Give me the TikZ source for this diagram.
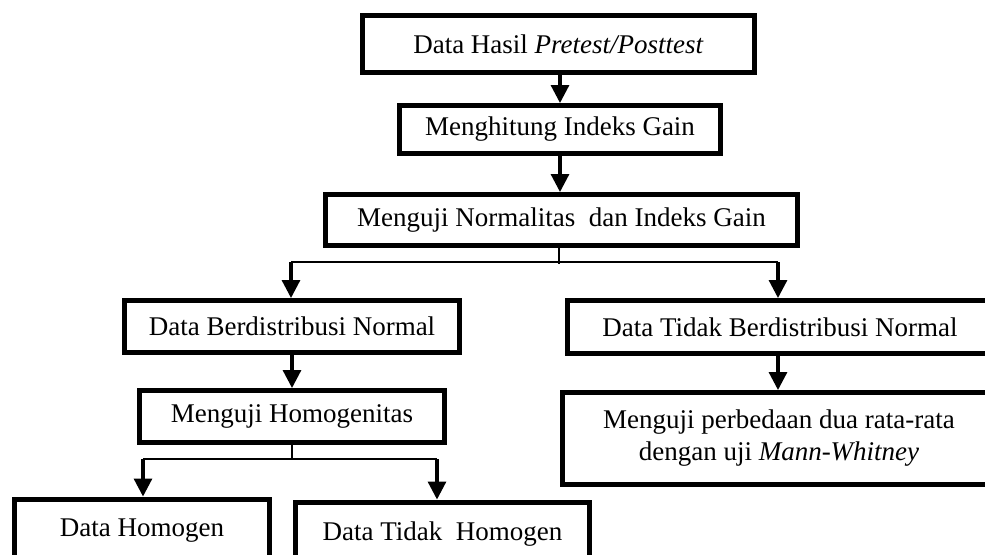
\documentclass[tikz,border=0pt]{standalone}
\usepackage{fontspec}
\setmainfont{Liberation Serif}
\usetikzlibrary{arrows.meta}
\begin{document}
\begin{tikzpicture}[x=0.5pt,y=-0.5pt,
  box/.style={draw=black,line width=2.5pt,fill=white,inner sep=0pt,align=center,
    font=\fontsize{13.5}{16}\selectfont},
  thinline/.style={line width=1.1pt},
  arr/.style={line width=1.6pt,-{Triangle[length=9pt,width=9pt]}}]
\useasboundingbox (0,0) rectangle (985,554);
\clip (0,0) rectangle (985,554);
\fill[white] (0,0) rectangle (985,554);
% boxes (centers and outer sizes in px, scale 0.5pt)
\node[box,minimum width=196pt,minimum height=28.5pt] (B1) at (558.5,44) {Data Hasil \textit{Pretest/Posttest}};
\node[box,minimum width=160.5pt,minimum height=24pt] (B2) at (560,129.5) {Menghitung Indeks Gain};
\node[box,minimum width=236pt,minimum height=25.5pt] (B3) at (561.5,220) {Menguji Normalitas\ \ dan Indeks Gain};
\node[box,minimum width=167.5pt,minimum height=26pt] (B4) at (292,326.5) {Data Berdistribusi Normal};
\node[box,minimum width=212.5pt,minimum height=26.5pt] (B5) at (780,327) {Data Tidak Berdistribusi Normal};
\node[box,minimum width=152.5pt,minimum height=26pt] (B6) at (292,416.5) {Menguji Homogenitas};
\node[box,minimum width=216.5pt,minimum height=46pt] (B7) at (779,438.5) {Menguji perbedaan dua rata-rata\\dengan uji \textit{Mann-Whitney}};
\node[box,minimum width=127.5pt,minimum height=32pt] (B8) at (142,531) {Data Homogen};
\node[box,minimum width=147pt,minimum height=32pt] (B9) at (442.5,534) {Data Tidak\ \ Homogen};
% main chain
\draw[arr] (B2.north |- B1.south) -- (B2.north);
\draw[arr] (B2.south) -- (B2.south |- B3.north);
% first branch
\coordinate (j1) at (559,264);
\coordinate (jL) at (291,262);
\coordinate (jR) at (778,262);
\draw[thinline] (B3.south -| j1) -- (j1);
\draw[thinline] (jL) -- (jR);
\draw[arr] (jL) -- (jL |- B4.north);
\draw[arr] (jR) -- (jR |- B5.north);
% left chain
\draw[arr] (B4.south) -- (B6.north);
\draw[arr] (B5.south -| jR) -- (jR |- B7.north);
% second branch
\coordinate (j2) at (292,460);
\coordinate (kL) at (143,459);
\coordinate (kR) at (437,459);
\draw[thinline] (B6.south) -- (j2);
\draw[thinline] (kL) -- (kR);
\draw[arr] (kL) -- (kL |- B8.north);
\draw[arr] (kR) -- (kR |- B9.north);
\end{tikzpicture}
\end{document}
